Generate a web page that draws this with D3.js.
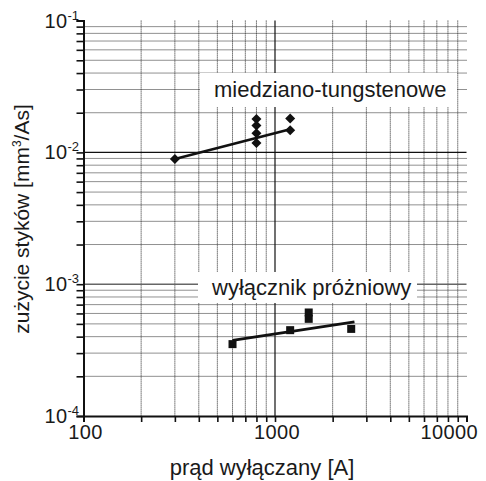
<!DOCTYPE html>
<html><head><meta charset="utf-8">
<script src="https://cdn.jsdelivr.net/npm/d3@7"></script>
<style>
body{margin:0;background:#fff}
text{font-family:"Liberation Sans",Arial,Helvetica,sans-serif;fill:#1a1a1a}
</style>
</head><body><svg id="c" width="486" height="481"></svg>
<script>
// ---- data ----
const xTickValues = [100, 1000, 10000];
const xTickLabels = ["100", "1000", "10000"];
const yTickValues = [1e-4, 1e-3, 1e-2, 1e-1];
const yTickExponents = ["-4", "-3", "-2", "-1"];
const cuX = [300, 800, 800, 800, 800, 1200, 1200];
const cuY = [0.0089, 0.0179, 0.0160, 0.0140, 0.0118, 0.0181, 0.0147];
const cuFitX = [300, 1200];
const cuFitY = [0.0089, 0.0150];
const vacX = [600, 1200, 1500, 1500, 2500];
const vacY = [0.000351, 0.000448, 0.000610, 0.000546, 0.000458];
const vacFitX = [600, 2600];
const vacFitY = [0.000375, 0.000518];
const seriesLabels = ["miedziano-tungstenowe", "wyłącznik próżniowy"];
const xTitle = "prąd wyłączany [A]";

// ---- layout ----
const svg = d3.select("#c");
const x = d3.scaleLog().domain([100, 10000]).range([83.5, 466.5]);
const y = d3.scaleLog().domain([1e-4, 1e-1]).range([416, 20.6]);

const minorX = [], minorY = [];
[100, 1000].forEach(d => { for (let k = 2; k <= 9; k++) minorX.push(d * k); });
[1e-4, 1e-3, 1e-2].forEach(d => { for (let k = 2; k <= 9; k++) minorY.push(d * k); });

const g = svg.append("g");
// dotted grid
g.selectAll("line.vx").data(minorX).join("line")
  .attr("x1", d => x(d)).attr("x2", d => x(d))
  .attr("y1", y(1e-1)).attr("y2", y(1e-4))
  .attr("stroke", "#222").attr("stroke-width", 1).attr("stroke-dasharray", "1,1");
g.selectAll("line.hy").data(minorY).join("line")
  .attr("x1", x(100)).attr("x2", x(10000))
  .attr("y1", d => y(d)).attr("y2", d => y(d))
  .attr("stroke", "#222").attr("stroke-width", 1).attr("stroke-dasharray", "1,1");
// major grid
g.append("line").attr("x1", x(1000)).attr("x2", x(1000)).attr("y1", y(1e-1)).attr("y2", y(1e-4))
  .attr("stroke", "#111").attr("stroke-width", 1.2);
g.append("line").attr("x1", x(100)).attr("x2", x(10000)).attr("y1", y(1e-2)).attr("y2", y(1e-2))
  .attr("stroke", "#111").attr("stroke-width", 1.4);
g.append("line").attr("x1", x(100)).attr("x2", x(10000)).attr("y1", y(1e-3)).attr("y2", y(1e-3))
  .attr("stroke", "#666").attr("stroke-width", 1.4);

// label boxes
svg.append("rect").attr("x", 200).attr("y", 73).attr("width", 257).attr("height", 34).attr("fill", "#fff");
svg.append("rect").attr("x", 198).attr("y", 272).attr("width", 219).attr("height", 31).attr("fill", "#fff");
svg.append("text").attr("x", 214).attr("y", 97).attr("font-size", 22).text(seriesLabels[0]);
svg.append("text").attr("x", 212).attr("y", 295).attr("font-size", 22).text(seriesLabels[1]);

// axes
const xAxis = d3.axisBottom(x).tickValues(xTickValues.concat(minorX)).tickFormat("").tickSizeOuter(0).tickSize(6);
const ax = svg.append("g").attr("transform", `translate(0,${y(1e-4)})`).call(xAxis);
const yAxis = d3.axisLeft(y).tickValues(yTickValues.concat(minorY)).tickFormat("").tickSizeOuter(0).tickSize(7);
const ay = svg.append("g").attr("transform", `translate(${x(100)},0)`).call(yAxis);
[ax, ay].forEach(a => {
  a.select(".domain").attr("stroke", "#111").attr("stroke-width", 2);
  a.selectAll(".tick line").attr("stroke", "#111").attr("stroke-width", 1.6);
});

// x tick labels
svg.selectAll("text.xl").data(xTickValues).join("text")
  .attr("x", (d, i) => i === xTickValues.length - 1 ? 478 : x(d) + 2)
  .attr("text-anchor", (d, i) => i === xTickValues.length - 1 ? "end" : "middle")
  .attr("y", 439).attr("font-size", 20).attr("letter-spacing", 0.4)
  .text((d, i) => xTickLabels[i]);
// y tick labels
const yl = svg.selectAll("text.yl").data(yTickValues).join("text")
  .attr("x", 79).attr("y", d => y(d) + 7).attr("text-anchor", "end").attr("font-size", 20);
yl.append("tspan").attr("letter-spacing", 0.4).text("10");
yl.append("tspan").attr("dy", -8).attr("font-size", 13).text((d, i) => yTickExponents[i]);

// axis titles
svg.append("text").attr("x", 262).attr("y", 475).attr("text-anchor", "middle").attr("font-size", 22).text(xTitle);
const yt = svg.append("text").attr("transform", "translate(29,219) rotate(-90)")
  .attr("text-anchor", "middle").attr("font-size", 21);
yt.append("tspan").text("zużycie styków [mm");
yt.append("tspan").attr("dy", -8).attr("font-size", 12).text("3");
yt.append("tspan").attr("dy", 8).text("/As]");

// fit lines
const line = d3.line().x(d => x(d[0])).y(d => y(d[1]));
svg.append("path").attr("d", line(d3.zip(cuFitX, cuFitY))).attr("stroke", "#111").attr("stroke-width", 2.6).attr("fill", "none");
svg.append("path").attr("d", line(d3.zip(vacFitX, vacFitY))).attr("stroke", "#111").attr("stroke-width", 2.6).attr("fill", "none");

// markers
const r = 5;
svg.selectAll("path.dia").data(d3.zip(cuX, cuY)).join("path")
  .attr("d", d => { const cx = x(d[0]), cy = y(d[1]); return `M${cx},${cy - r}L${cx + r},${cy}L${cx},${cy + r}L${cx - r},${cy}Z`; })
  .attr("fill", "#111");
const s = 8;
svg.selectAll("rect.sq").data(d3.zip(vacX, vacY)).join("rect")
  .attr("x", d => x(d[0]) - s / 2).attr("y", d => y(d[1]) - s / 2)
  .attr("width", s).attr("height", s).attr("fill", "#111");
</script></body></html>
